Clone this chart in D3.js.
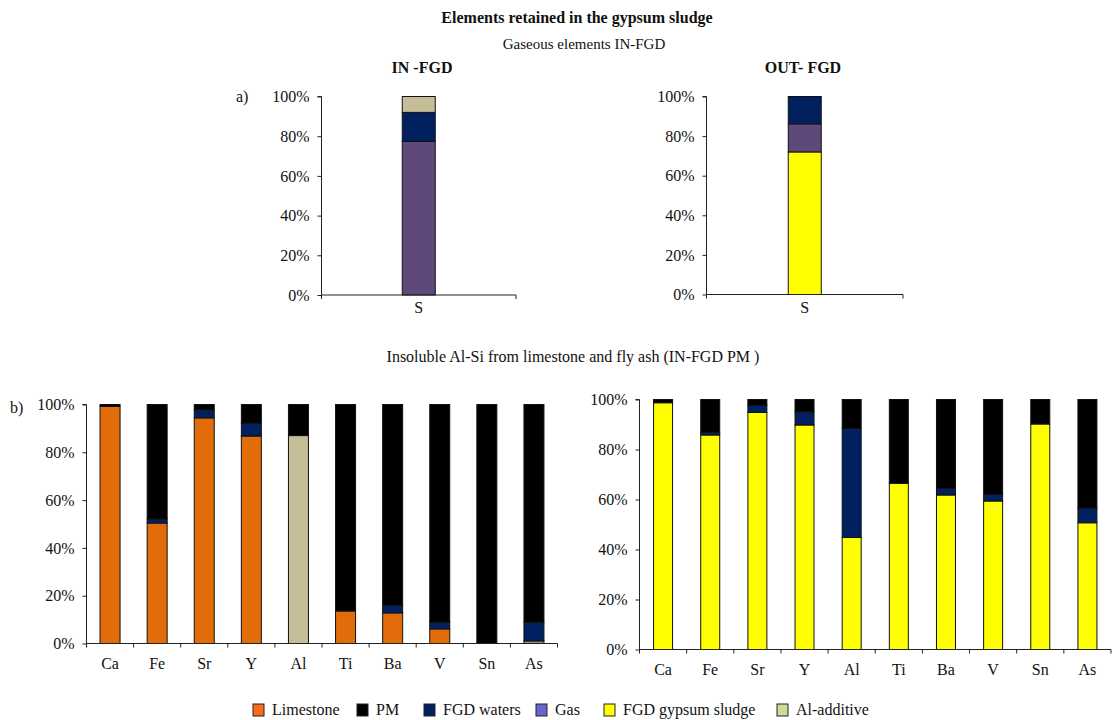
<!DOCTYPE html>
<html>
<head>
<meta charset="utf-8">
<script src="https://cdn.jsdelivr.net/npm/d3@7"></script>
<style>
  html, body { margin: 0; padding: 0; background: #fff; }
  svg { display: block; }
  svg text { font-family: "Liberation Serif", "DejaVu Serif", serif; }
</style>
</head>
<body>
<svg id="chart" width="1112" height="720"></svg>
<script>
// ---- data -------------------------------------------------------------
const seriesNames = ["Limestone", "PM", "FGD waters", "Gas", "FGD gypsum sludge", "Al-additive"];
const barColors = ["#e36c0a", "#000000", "#002060", "#5f497a", "#ffff00", "#c4bd97"];
const legendColors = ["#ff6a1a", "#000000", "#002060", "#6666cc", "#ffff00", "#ccdd99"];
const yTicks = [0, 20, 40, 60, 80, 100];

// a) sulphur (gaseous element), % distribution
const gasCategories = ["S"];
const inGas   = [77.4];
const inWater = [14.6];
const inAlAdd = [8.0];
const outGyp   = [72.0];
const outGas   = [14.2];
const outWater = [13.8];

// b) insoluble Al-Si elements, % distribution
const elements = ["Ca", "Fe", "Sr", "Y", "Al", "Ti", "Ba", "V", "Sn", "As"];
const inLimestone = [99.2, 50.4, 94.4, 86.8, 0, 13.6, 12.8, 6.1, 0, 0];
const inAlAdditive = [0, 0, 0, 0, 87.0, 0, 0, 0, 0, 0];
const inOther = [0, 0, 0, 0, 0, 0, 0, 0, 0, 1.1];
const inFgdWaters = [0, 1.7, 3.4, 5.4, 0, 0, 3.2, 2.8, 0, 7.8];
const inPM = [0.8, 47.9, 2.2, 7.8, 13.0, 86.4, 84.0, 91.1, 100, 91.1];
const outGypsum = [98.7, 85.8, 94.8, 89.8, 44.8, 66.5, 61.8, 59.4, 90.2, 50.7];
const outFgdWaters = [0, 1.1, 2.9, 5.3, 43.6, 0, 2.7, 2.6, 0, 5.9];
const outPM = [1.3, 13.1, 2.3, 4.9, 11.6, 33.5, 35.5, 38.0, 9.8, 43.4];

// ---- helpers ----------------------------------------------------------
const svg = d3.select("#chart");
const color = d3.scaleOrdinal(seriesNames.concat(["Other"]), barColors.concat(["#8c8c8c"]));
const FONT = "Liberation Serif";

function rows(categories, cols) {
  return categories.map((c, i) => {
    const r = { cat: c };
    for (const [k, arr] of Object.entries(cols)) r[k] = arr[i];
    return r;
  });
}

function panel(opt) {
  const { categories, cols, x0, x1, yTop, yBottom, barWidth, labelDy } = opt;
  const keys = Object.keys(cols);
  const data = rows(categories, cols);
  const x = d3.scaleBand().domain(categories).range([x0, x1]);
  const y = d3.scaleLinear().domain([0, 100]).range([yBottom, yTop]);
  const stacked = d3.stack().keys(keys)(data);
  const g = svg.append("g");

  // y axis
  const yAxis = d3.axisLeft(y).tickValues(yTicks).tickSize(4).tickPadding(8)
    .tickFormat(d => d + "%");
  const ya = g.append("g").attr("transform", `translate(${x0},0)`).call(yAxis);
  ya.attr("font-family", FONT);
  ya.select(".domain").attr("d", `M-4,${y(100)}H0V${y(0)}`);
  ya.selectAll("text").attr("font-size", 16).attr("font-family", FONT).attr("fill", "#111");
  ya.selectAll("line, path").attr("stroke", "#222");

  // stacked bars
  g.append("g").selectAll("g").data(stacked).join("g")
    .attr("fill", s => color(s.key))
    .selectAll("rect").data(s => s.filter(d => d[1] - d[0] > 0)).join("rect")
    .attr("x", d => x(d.data.cat) + (x.bandwidth() - barWidth) / 2)
    .attr("width", barWidth)
    .attr("y", d => y(d[1]))
    .attr("height", d => y(d[0]) - y(d[1]))
    .attr("stroke", "#111").attr("stroke-width", 1);

  // x axis with ticks between categories
  const xa = g.append("g").attr("transform", `translate(0,${yBottom})`);
  xa.append("line").attr("x1", x0).attr("x2", x1).attr("stroke", "#222");
  const bounds = categories.map(c => x(c)).concat([x1]);
  xa.selectAll("line.tk").data(bounds).join("line").attr("class", "tk")
    .attr("x1", d => d).attr("x2", d => d).attr("y1", 0).attr("y2", 4).attr("stroke", "#222");
  xa.selectAll("text").data(categories).join("text")
    .attr("x", d => x(d) + x.bandwidth() / 2).attr("y", labelDy)
    .attr("text-anchor", "middle").attr("font-size", 16).attr("font-family", FONT).attr("fill", "#111")
    .text(d => d);
}

// ---- titles -----------------------------------------------------------
function label(txt, x, y, size, weight, anchor = "middle") {
  svg.append("text").attr("x", x).attr("y", y).attr("font-size", size).attr("font-family", FONT)
    .attr("font-weight", weight).attr("text-anchor", anchor).attr("fill", "#111").text(txt);
}
label("Elements retained in the gypsum sludge", 577, 23, 16, "bold");
label("Gaseous elements IN-FGD", 584, 49, 15, "normal");
label("IN -FGD", 422, 73, 16, "bold");
label("OUT- FGD", 803, 73, 16, "bold");
label("a)", 236, 102, 16, "normal", "start");
label("Insoluble Al-Si from limestone and fly ash (IN-FGD PM )", 573, 362, 16, "normal");
label("b)", 10, 413, 16, "normal", "start");

// ---- panels -----------------------------------------------------------
panel({ categories: gasCategories, cols: { "Gas": inGas, "FGD waters": inWater, "Al-additive": inAlAdd },
        x0: 321.5, x1: 516, yTop: 96.5, yBottom: 295, barWidth: 33, labelDy: 18 });
panel({ categories: gasCategories, cols: { "FGD gypsum sludge": outGyp, "Gas": outGas, "FGD waters": outWater },
        x0: 706.5, x1: 903, yTop: 96.5, yBottom: 294.5, barWidth: 33, labelDy: 18 });
panel({ categories: elements,
        cols: { "Limestone": inLimestone, "Al-additive": inAlAdditive, "Other": inOther, "FGD waters": inFgdWaters, "PM": inPM },
        x0: 86.5, x1: 557.5, yTop: 404.5, yBottom: 643.5, barWidth: 20, labelDy: 25 });
panel({ categories: elements,
        cols: { "FGD gypsum sludge": outGypsum, "FGD waters": outFgdWaters, "PM": outPM },
        x0: 639.5, x1: 1111, yTop: 399.5, yBottom: 649.5, barWidth: 19, labelDy: 25 });

// ---- legend -----------------------------------------------------------
const legendX = [253, 357, 424, 536, 604, 777];
const leg = svg.append("g").selectAll("g").data(seriesNames).join("g")
  .attr("transform", (d, i) => `translate(${legendX[i]},704)`);
leg.append("rect").attr("width", 11).attr("height", 12)
  .attr("fill", (d, i) => legendColors[i]).attr("stroke", "#222").attr("stroke-width", 1);
leg.append("text").attr("x", 19).attr("y", 11).attr("font-size", 16).attr("font-family", FONT)
  .attr("fill", "#111").text(d => d);
</script>
</body>
</html>
